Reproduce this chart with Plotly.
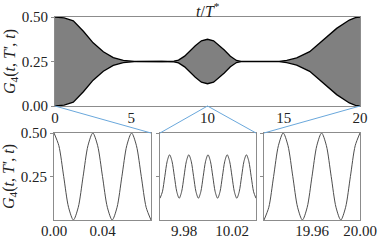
import plotly.graph_objects as go

W, H = 382, 242

# ---- data ----
# top panel: envelope of the rapidly oscillating G4 (upper edge; lower edge mirrored around 0.25)
env_t = [0.0, 0.6, 1.2, 1.86, 2.5, 3.17, 3.82, 4.48, 5.2, 6.0, 7.0, 7.8, 8.1, 8.5, 8.9, 9.2, 9.6, 10.0,
         10.4, 10.8, 11.1, 11.5, 11.9, 12.2, 13.0, 14.0, 14.7, 15.2, 15.85, 16.7, 17.6, 18.47, 19.3, 19.7, 20.0]
env_upper = [0.500, 0.495, 0.478, 0.420, 0.355, 0.305, 0.272, 0.256, 0.251, 0.250, 0.250, 0.252, 0.258,
             0.280, 0.315, 0.338, 0.366, 0.375, 0.366, 0.338, 0.315, 0.280, 0.256, 0.251, 0.250, 0.250,
             0.251, 0.256, 0.270, 0.305, 0.370, 0.436, 0.483, 0.496, 0.500]
env_lower = [0.50 - v for v in env_upper]

# zoom panels (read at peaks, troughs, crossings and in between)
z1_t = [0.000, 0.004, 0.008, 0.012, 0.016, 0.020, 0.024, 0.028, 0.032, 0.036, 0.040,
        0.044, 0.048, 0.052, 0.056, 0.060, 0.064, 0.068, 0.072, 0.076, 0.080]
z1_g = [0.50, 0.427, 0.25, 0.073, 0.00, 0.073, 0.25, 0.427, 0.50, 0.427, 0.25,
        0.073, 0.00, 0.073, 0.25, 0.427, 0.50, 0.427, 0.25, 0.073, 0.00]
z2_t = [9.960, 9.962, 9.964, 9.966, 9.968, 9.970, 9.972, 9.974, 9.976, 9.978, 9.980,
        9.982, 9.984, 9.986, 9.988, 9.990, 9.992, 9.994, 9.996, 9.998, 10.000,
        10.002, 10.004, 10.006, 10.008, 10.010, 10.012, 10.014, 10.016, 10.018, 10.020,
        10.022, 10.024, 10.026, 10.028, 10.030, 10.032, 10.034, 10.036, 10.038, 10.040]
z2_g = [0.125, 0.162, 0.25, 0.338, 0.375, 0.338, 0.25, 0.162, 0.125, 0.162, 0.25,
        0.338, 0.375, 0.338, 0.25, 0.162, 0.125, 0.162, 0.25, 0.338, 0.375,
        0.338, 0.25, 0.162, 0.125, 0.162, 0.25, 0.338, 0.375, 0.338, 0.25,
        0.162, 0.125, 0.162, 0.25, 0.338, 0.375, 0.338, 0.25, 0.162, 0.125]
z3_t = [19.920, 19.924, 19.928, 19.932, 19.936, 19.940, 19.944, 19.948, 19.952, 19.956, 19.960,
        19.964, 19.968, 19.972, 19.976, 19.980, 19.984, 19.988, 19.992, 19.996, 20.000]
z3_g = [0.00, 0.073, 0.25, 0.427, 0.50, 0.427, 0.25, 0.073, 0.00, 0.073, 0.25,
        0.427, 0.50, 0.427, 0.25, 0.073, 0.00, 0.073, 0.25, 0.427, 0.50]

top_ticks = [0, 5, 10, 15, 20]
top_yticks = [0.0, 0.25, 0.5]
z_yticks = [0.25, 0.5]
z1_ticks, z1_labels = [0.0, 0.04], ["0.00", "0.04"]
z2_ticks, z2_labels = [9.98, 10.02], ["9.98", "10.02"]
z3_ticks, z3_labels = [19.96, 20.0], ["19.96", "20.00"]
z_ranges = [[0.0, 0.08], [9.96, 10.04], [19.92, 20.0]]

# ---- layout geometry (pixels -> paper) ----
def px_x(a, b):
    return [a / W, b / W]

def px_y(top, bot):
    return [(H - bot) / H, (H - top) / H]

top_dom_x, top_dom_y = px_x(55, 360), px_y(17, 106)
z_dom_y = px_y(133, 220)
z_dom_x = [px_x(54, 151), px_x(160, 256), px_x(264, 360)]

FONT = "Liberation Serif, DejaVu Serif, serif"
GRID = "#8c8c8c"
BLUE = "#6aa8dc"
TXT = "#222222"
FS = 15

fig = go.Figure()

# top panel: grey band between envelopes
fig.add_trace(go.Scatter(x=env_t, y=env_lower, mode="lines", line=dict(color="black", width=1.3),
                         xaxis="x", yaxis="y", showlegend=False, hoverinfo="skip"))
fig.add_trace(go.Scatter(x=env_t, y=env_upper, mode="lines", line=dict(color="black", width=1.3),
                         fill="tonexty", fillcolor="#808080",
                         xaxis="x", yaxis="y", showlegend=False, hoverinfo="skip"))

for i, (tt, gg) in enumerate([(z1_t, z1_g), (z2_t, z2_g), (z3_t, z3_g)]):
    fig.add_trace(go.Scatter(x=tt, y=gg, mode="lines",
                             line=dict(color="#4d4d4d", width=1, shape="spline", smoothing=0.8),
                             xaxis=f"x{i+2}", yaxis=f"y{i+2}", showlegend=False, hoverinfo="skip"))

ylabel = "<i>G</i><sub>4</sub>(<i>t</i>, <i>T'</i>, <i>t</i>)"
axis_common = dict(showline=True, linecolor=GRID, linewidth=1, mirror=True, showgrid=False,
                   zeroline=False, ticklen=3, tickcolor=GRID, automargin=False,
                   tickfont=dict(family=FONT, size=FS, color=TXT))

layout = dict(
    width=W, height=H, margin=dict(l=0, r=0, t=0, b=0, autoexpand=False),
    paper_bgcolor="white", plot_bgcolor="white",
    xaxis=dict(domain=top_dom_x, range=[0, 20], tickvals=top_ticks, anchor="y", ticks="",
               ticklabelstandoff=-2, **axis_common),
    yaxis=dict(domain=top_dom_y, range=[0, 0.5], tickvals=top_yticks, ticktext=["0.00", "0.25", "0.50"],
               anchor="x", ticks="outside",
               title=dict(text=ylabel, font=dict(family=FONT, size=16, color=TXT), standoff=2),
               **axis_common),
)
tick_sets = [(z1_ticks, z1_labels), (z2_ticks, z2_labels), (z3_ticks, z3_labels)]
for i in range(3):
    n = i + 2
    layout[f"xaxis{n}"] = dict(domain=z_dom_x[i], range=z_ranges[i], tickvals=tick_sets[i][0],
                               ticktext=tick_sets[i][1], anchor=f"y{n}", ticks="",
                               ticklabelstandoff=-3, **axis_common)
    yd = dict(domain=z_dom_y, range=[0, 0.5], tickvals=z_yticks, ticktext=["0.25", "0.50"],
              anchor=f"x{n}", showticklabels=(i == 0), ticks="outside", **axis_common)
    if i == 0:
        yd["title"] = dict(text=ylabel, font=dict(family=FONT, size=16, color=TXT), standoff=2)
    layout[f"yaxis{n}"] = yd
fig.update_layout(**layout)

# title on top
fig.add_annotation(text="<i>t</i>/<i>T</i><sup>*</sup>", x=sum(top_dom_x) / 2, y=top_dom_y[1],
                   xref="paper", yref="paper", yanchor="bottom", showarrow=False,
                   font=dict(family=FONT, size=16, color=TXT), yshift=-5)

# connecting lines: zoom region on top panel -> inset corners
def top_to_paper(t, g):
    x = top_dom_x[0] + (t - 0) / 20 * (top_dom_x[1] - top_dom_x[0])
    y = top_dom_y[0] + g / 0.5 * (top_dom_y[1] - top_dom_y[0])
    return x, y

links = [(0.0, z_dom_x[0][1]), (10.0, z_dom_x[1][0]), (10.0, z_dom_x[1][1]), (20.0, z_dom_x[2][0])]
for t, xr in links:
    x0, y0 = top_to_paper(t, 0.0)
    fig.add_shape(type="line", xref="paper", yref="paper", x0=x0, y0=y0, x1=xr, y1=z_dom_y[1],
                  line=dict(color=BLUE, width=1))

fig.write_html("out.html", config={"displayModeBar": False},
               post_script="document.body.style.margin='0';document.body.style.overflow='hidden';")
